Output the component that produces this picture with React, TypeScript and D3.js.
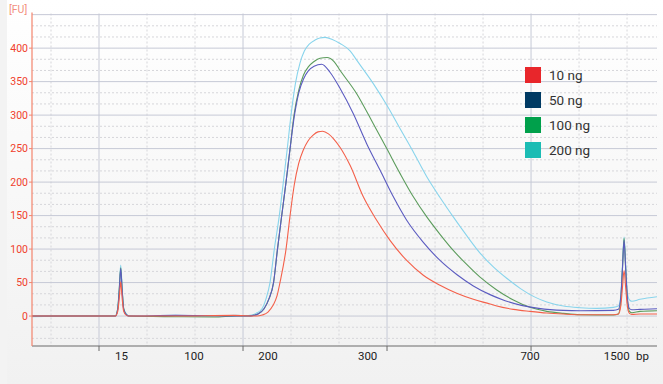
import React from 'react';
import * as d3 from 'd3';

// ---------- data (migration time in s, fluorescence in FU) ----------
const seriesNames = ['10 ng', '50 ng', '100 ng', '200 ng'];

const red10: [number, number][] = [
  [23, 0], [31.7, 0], [31.95, 7], [32.12, 28], [32.26, 51], [32.4, 28], [32.57, 7], [32.85, 1], [33.1, 0],
  [38, 0], [44, 1], [46.4, 0], [47.0, 1.5], [47.6, 6], [48.13, 16], [48.54, 30], [48.85, 50], [49.48, 100], [49.9, 150],
  [50.34, 196], [50.8, 228], [51.28, 248], [51.75, 261], [52.3, 270], [52.8, 275], [53.3, 276], [53.9, 272],
  [54.41, 265], [55.1, 252], [56.15, 225], [57.53, 178],
  [58.92, 143], [60.31, 113], [62.05, 83], [63.78, 61], [65.52, 46], [67.26, 34], [68.99, 25], [70.73, 18],
  [71.43, 15], [73.16, 10], [74.9, 7], [76.64, 4.5], [78.37, 3], [80.1, 2], [83.57, 2], [84.1, 3], [84.35, 15],
  [84.52, 42], [84.69, 68], [84.86, 42], [85.03, 15], [85.25, 4], [85.49, 2.5], [86.35, 3], [88.2, 3],
];

const blue50: [number, number][] = [
  [23, 0], [31.7, 0], [31.95, 10], [32.12, 40], [32.26, 71], [32.4, 40], [32.57, 10], [32.85, 2], [33.1, 0],
  [38, 1], [42, 0.5], [44.3, 0], [45.5, 0], [46.1, 1], [46.56, 3], [47.19, 11], [47.71, 26], [48.18, 50], [48.59, 100],
  [49.03, 150], [49.48, 200], [49.9, 250], [50.36, 300], [50.8, 333], [51.3, 354], [51.8, 366], [52.4, 373], [53.2, 376],
  [54.06, 364], [55.1, 340], [56.49, 302], [57.89, 257], [59.27, 218], [60.66, 178], [62.05, 143], [63.78, 110],
  [65.52, 83], [67.26, 62], [68.99, 45], [70.73, 32], [72.3, 23], [74.0, 16], [75.8, 11.5], [78.37, 8.5],
  [80.1, 8], [83.57, 8.5], [84.1, 10], [84.35, 28], [84.52, 70], [84.69, 113], [84.86, 70], [85.03, 28],
  [85.25, 11], [85.49, 9.5], [86.35, 10], [88.2, 11],
];

const green100: [number, number][] = [
  [23, 0], [31.7, 0], [31.95, 11], [32.12, 42], [32.26, 72], [32.4, 42], [32.57, 11], [32.85, 2], [33.1, 0],
  [38, -1], [42, -1.5], [44.3, 0], [45.5, 0], [46.1, 1], [46.56, 3], [47.19, 11], [47.71, 26], [48.18, 50], [48.59, 100],
  [49.03, 150], [49.48, 200], [49.9, 250], [50.31, 300], [50.8, 337], [51.3, 360], [51.8, 372], [52.4, 380], [53.02, 385],
  [53.75, 386], [54.48, 380], [55.1, 367], [56.84, 332], [58.57, 287], [59.97, 250], [61.35, 213], [62.74, 178],
  [64.14, 148], [65.52, 122], [66.9, 98], [68.3, 77], [69.69, 58], [71.43, 39], [73.16, 24], [74.9, 13],
  [76.64, 7], [78.37, 4], [80.1, 2], [83.57, 1.5], [84.1, 3], [84.35, 25], [84.52, 70], [84.69, 116],
  [84.86, 70], [85.03, 25], [85.25, 7], [85.49, 5], [86.35, 7], [88.2, 8],
];

const cyan200: [number, number][] = [
  [23, -1], [27, 0], [31.7, 0], [31.95, 12], [32.12, 45], [32.26, 76], [32.4, 45], [32.57, 12], [32.85, 3], [33.1, 0],
  [37.9, 1], [42, 0], [44.3, 1], [45.2, 0.5], [45.9, 1.5], [46.35, 4], [46.98, 11], [47.4, 26], [47.81, 50], [48.26, 100],
  [48.78, 150], [49.2, 200], [49.61, 250], [50.0, 300], [50.47, 348], [50.94, 378], [51.4, 396], [51.9, 406],
  [52.5, 412], [53.0, 415], [53.54, 416], [54.3, 413], [55.1, 407], [56.15, 396], [56.84, 382], [58.57, 347], [59.97, 315],
  [61.35, 280], [62.74, 245], [64.14, 208], [65.52, 177], [66.9, 148], [68.3, 120], [69.69, 94], [71.1, 73],
  [72.5, 56], [73.9, 41], [75.3, 29], [76.64, 21], [78.37, 15], [80.1, 12.5], [81.84, 11.5], [83.57, 13],
  [84.1, 15], [84.35, 30], [84.52, 75], [84.69, 118], [84.86, 75], [85.03, 35], [85.25, 24], [85.49, 22],
  [86.35, 25], [88.2, 29],
];

const yTicks = [0, 50, 100, 150, 200, 250, 300, 350, 400];
const ladderLabels = ['15', '100', '200', '300', '700', '1500'];
const ladderTimes = [32.34, 39.9, 47.6, 57.98, 74.9, 83.93];

// ---------- style ----------
const lineColors = ['#f4604a', '#5b5bc0', '#5c9c5c', '#88d4ec'];
const legendColors = ['#e8262b', '#003a63', '#00a04b', '#1bbcb4'];

export default function App() {
  const W = 663, H = 384;
  const left = 32, right = 657, top = 13.5, bottom = 346;
  const x = d3.scaleLinear().domain([23.02, 88.12]).range([left, right]);
  const y = d3.scaleLinear().domain([-44.7, 451.7]).range([bottom, top]);

  const line = d3.line<[number, number]>()
    .x(d => x(d[0]))
    .y(d => y(d[1]))
    .curve(d3.curveMonotoneX);

  const data = [red10, blue50, green100, cyan200];
  const drawOrder = [3, 2, 1, 0];

  const majorX = d3.range(30, 88.2, 15);
  const minorX = d3.range(25, 88.2, 5).filter(t => !majorX.some(m => Math.abs(m - t) < 0.01) && x(t) > left + 2);
  const majorY = d3.range(0, 452, 50);
  const minorY = d3.range(-50, 452, 50 / 3).filter(v => Math.abs(v / 50 - Math.round(v / 50)) > 0.01 && y(v) < bottom - 2 && y(v) > top + 2);

  const font = 'Roboto, "Liberation Sans", Arial, sans-serif';

  return (
    <svg width={W} height={H} style={{ position: 'absolute', left: 0, top: 0 }} xmlns="http://www.w3.org/2000/svg">
      <defs>
        <linearGradient id="bg" x1="0" y1="0" x2="0" y2="1">
          <stop offset="0" stopColor="#ffffff" />
          <stop offset="1" stopColor="#f1f1f1" />
        </linearGradient>
        <clipPath id="plotClip">
          <rect x={left} y={top - 1} width={right - left} height={bottom - top + 1} />
        </clipPath>
      </defs>
      <rect x={0} y={0} width={W} height={H} fill="#f3f3f3" />
      <rect x={7} y={0} width={W - 7} height={H} fill="url(#bg)" />

      {/* grid */}
      <g>
        {minorY.map((v, i) => (
          <line key={'my' + i} x1={left} x2={right} y1={y(v)} y2={y(v)} stroke="#d6d6da" strokeWidth={1} strokeDasharray="2,2" />
        ))}
        {minorX.map((t, i) => (
          <line key={'mx' + i} x1={x(t)} x2={x(t)} y1={top} y2={bottom} stroke="#d6d6da" strokeWidth={1} strokeDasharray="2,2" />
        ))}
        {majorY.map((v, i) => (
          <line key={'gy' + i} x1={left} x2={right} y1={y(v)} y2={y(v)} stroke="#c6c9d6" strokeWidth={1} />
        ))}
        {majorX.map((t, i) => (
          <line key={'gx' + i} x1={x(t)} x2={x(t)} y1={top} y2={bottom} stroke="#c6c9d6" strokeWidth={1} />
        ))}
      </g>

      {/* curves */}
      <g clipPath="url(#plotClip)">
        {drawOrder.map(i => (
          <path key={i} d={line(data[i]) || ''} fill="none" stroke={lineColors[i]} strokeWidth={1.1} />
        ))}
      </g>

      {/* axes */}
      <line x1={left} x2={right} y1={bottom} y2={bottom} stroke="#6a6a6a" strokeWidth={1} />
      {majorX.map((t, i) => (
        <line key={'tx' + i} x1={x(t)} x2={x(t)} y1={bottom} y2={bottom + 5} stroke="#6a6a6a" strokeWidth={1} />
      ))}
      <line x1={left} x2={left} y1={top - 1} y2={bottom} stroke="#f3846c" strokeWidth={1.2} />
      {yTicks.map((v, i) => (
        <g key={'ty' + i}>
          <line x1={left - 3} x2={left} y1={y(v)} y2={y(v)} stroke="#f3846c" strokeWidth={1} />
          <text x={left - 4} y={y(v)} dy="0.35em" textAnchor="end" fontFamily={font} fontSize={10.5} fill="#f0402c">{v}</text>
        </g>
      ))}
      <text x={9} y={12.5} fontFamily={font} fontSize={10.5} fill="#f3907e">[FU]</text>

      {ladderLabels.map((lab, i) => (
        <text key={'lx' + i} x={x(ladderTimes[i])} y={360} textAnchor="middle" fontFamily={font} fontSize={11.5} fill="#222">{lab}</text>
      ))}
      <text x={642.5} y={360} textAnchor="middle" fontFamily={font} fontSize={11.5} fill="#222">bp</text>

      {/* legend */}
      {seriesNames.map((name, i) => (
        <g key={'lg' + i} transform={`translate(525, ${67 + i * 25})`}>
          <rect x={0} y={0} width={16} height={16} fill={legendColors[i]} />
          <text x={24} y={8} dy="0.36em" fontFamily={font} fontSize={13.5} fill="#333">{name}</text>
        </g>
      ))}
    </svg>
  );
}
